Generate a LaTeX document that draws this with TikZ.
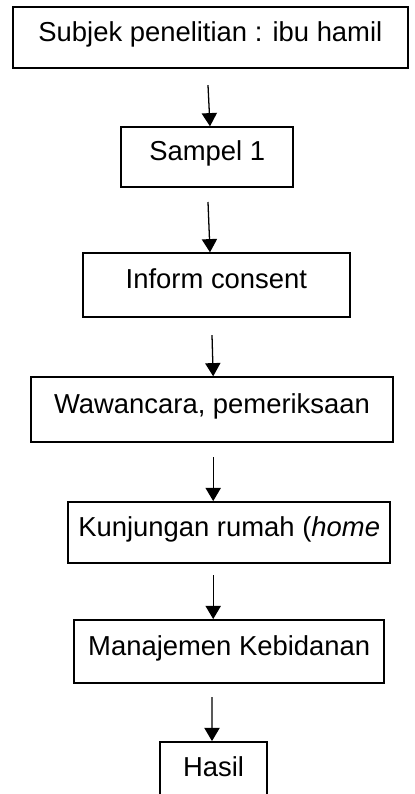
\documentclass[tikz,border=0pt]{standalone}
\usepackage{fontspec}
\setmainfont{Liberation Sans}
\usetikzlibrary{positioning, arrows.meta}

\begin{document}
\begin{tikzpicture}[
  every node/.style={font=\fontsize{19.5}{23}\selectfont},
  proc/.style    ={draw, line width=0.045cm, rectangle, fill=white,
                   align=center, inner sep=0pt,
                   text height=0.73em, text depth=0.21em},
  arr/.style     ={-{Triangle[length=0.33cm, width=0.38cm]},
                   line width=0.032cm},
]

\useasboundingbox (0,0) rectangle (10.375,-19.85);

%% ---- y layout (all in cm) ----
%%  -0.94  subjek
%%  -3.93  sampel
%%  -7.13  inform
%% -10.24  wawancara
%% -13.31  kunjungan
%% -16.29  manajemen
%% -19.31  hasil (cut by the page edge)

%% ---- boxes ----
\node[proc, minimum width=9.88cm, minimum height=1.52cm] (subjek) at (5.26,-0.94)
  {Subjek penelitian : ibu hamil};
\node[proc, minimum width=4.30cm, minimum height=1.50cm] (sampel) at (5.18,-3.93)
  {Sampel 1};
\node[proc, minimum width=6.68cm, minimum height=1.60cm] (inform) at (5.41,-7.13)
  {Inform consent};
\node[proc, minimum width=9.05cm, minimum height=1.62cm] (wawancara) at (5.30,-10.24)
  {Wawancara, pemeriksaan};
\node[proc, minimum width=8.05cm, minimum height=1.52cm] (kunjungan) at (5.73,-13.31)
  {Kunjungan rumah (\textit{home}};
\node[proc, minimum width=7.75cm, minimum height=1.58cm] (manajemen) at (5.73,-16.29)
  {Manajemen Kebidanan};
\node[proc, minimum width=2.68cm, minimum height=1.52cm] (hasil) at (5.34,-19.31)
  {Hasil};

%% ---- arrows (tails float below each box) ----
\coordinate (t1) at (5.20,-2.13);
\coordinate (t2) at (5.20,-5.05);
\coordinate (t3) at (5.30,-8.38);
\coordinate (t4) at (5.33,-11.43);
\coordinate (t5) at (5.33,-14.38);
\coordinate (t6) at (5.30,-17.43);

\draw[arr] (t1) -- ([xshift=0.07cm]sampel.north);
\draw[arr] (t2) -- ([xshift=-0.16cm]inform.north);
\draw[arr] (t3) -- ([xshift=0.03cm]wawancara.north);
\draw[arr] (t4) -- ([xshift=-0.40cm]kunjungan.north);
\draw[arr] (t5) -- ([xshift=-0.40cm]manajemen.north);
\draw[arr] (t6) -- ([xshift=-0.04cm]hasil.north);

\end{tikzpicture}
\end{document}
